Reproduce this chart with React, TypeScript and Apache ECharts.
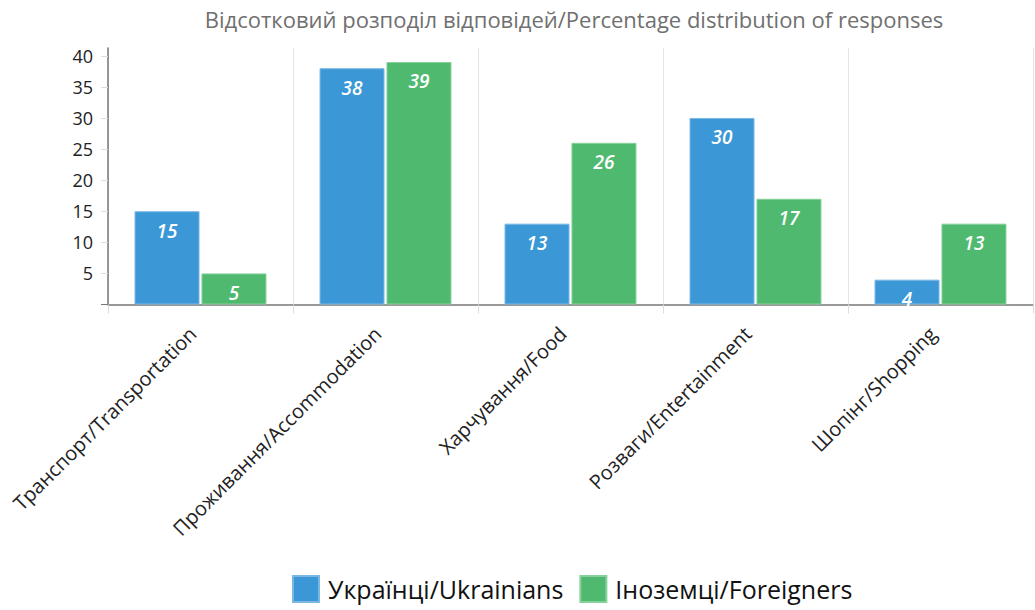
import React, { useEffect, useRef } from "react";
import * as echarts from "echarts";

const titleText = "Відсотковий розподіл відповідей/Percentage distribution of responses";
const categories = [
  "Транспорт/Transportation",
  "Проживання/Accommodation",
  "Харчування/Food",
  "Розваги/Entertainment",
  "Шопінг/Shopping",
];
const seriesNames = ["Українці/Ukrainians", "Іноземці/Foreigners"];
const ukrainians = [15, 38, 13, 30, 4];
const foreigners = [5, 39, 26, 17, 13];
const yTickValues = [5, 10, 15, 20, 25, 30, 35, 40];

const FONT = "'Open Sans', 'Noto Sans', sans-serif";

export default function App() {
  const ref = useRef<HTMLDivElement>(null);
  useEffect(() => {
    if (!ref.current) return;
    const chart = echarts.init(ref.current, null, { renderer: "svg" });
    const labelStyle = {
      show: true,
      position: "insideTop",
      distance: 10,
      color: "#ffffff",
      fontStyle: "italic",
      fontWeight: 600,
      fontSize: 19,
      fontFamily: FONT,
    };
    chart.setOption({
      animation: false,
      textStyle: { fontFamily: FONT },
      title: {
        text: titleText,
        left: 569,
        textAlign: "center",
        top: 3,
        textStyle: { fontSize: 22, fontWeight: "normal", color: "#707070", fontFamily: FONT },
      },
      legend: {
        bottom: 2,
        left: 287,
        itemWidth: 26,
        itemHeight: 26,
        itemGap: 16,
        icon: "rect",
        textStyle: { fontSize: 25, color: "#111", fontFamily: FONT, padding: [0, 0, 0, 4] },
        data: seriesNames,
      },
      grid: { left: 108, right: 2, top: 48, bottom: 305.5, containLabel: false },
      xAxis: [
        {
          type: "category",
          data: categories,
          axisLine: { lineStyle: { color: "#777", width: 1.5 } },
          axisTick: { show: true, length: 9, lineStyle: { color: "#ddd" } },
          splitLine: { show: true, lineStyle: { color: "#e3e3e3" } },
          axisLabel: {
            rotate: 45,
            margin: 18,
            fontSize: 20,
            color: "#222",
            fontFamily: FONT,
            padding: [0, 11, 0, 0],
          },
        },
      ],
      yAxis: [
        {
          type: "value",
          min: 0,
          max: 41.25,
          interval: 5,
          axisLine: { show: true, lineStyle: { color: "#777", width: 1.5 } },
          axisTick: {
            show: true,
            length: 7,
            lineStyle: { color: "#ddd" },
            customValues: yTickValues,
          },
          axisLabel: {
            fontSize: 18,
            color: "#222",
            margin: 15,
            fontFamily: FONT,
            customValues: yTickValues,
          },
          splitLine: { show: false },
        },
        {
          type: "value",
          min: 0,
          max: 41.25,
          interval: 15,
          position: "left",
          axisLine: { show: false },
          axisTick: { show: true, length: 7, lineStyle: { color: "#777" }, customValues: [0] },
          axisLabel: { show: false },
          splitLine: {
            show: true,
            showMinLine: false,
            showMaxLine: false,
            lineStyle: { color: "#e3e3e3" },
          },
        },
      ],
      series: [
        {
          name: seriesNames[0],
          type: "bar",
          data: ukrainians,
          barWidth: 65,
          barGap: "3%",
          itemStyle: { color: "#3b97d6", borderColor: "#7ab8e4", borderWidth: 1 },
          label: labelStyle,
        },
        {
          name: seriesNames[1],
          type: "bar",
          data: foreigners,
          barWidth: 65,
          barGap: "3%",
          itemStyle: { color: "#4fba6f", borderColor: "#86d09c", borderWidth: 1 },
          label: labelStyle,
        },
      ],
    });
    return () => chart.dispose();
  }, []);
  return <div ref={ref} style={{ width: 1035, height: 610, position: "absolute", left: 0, top: 0 }} />;
}
